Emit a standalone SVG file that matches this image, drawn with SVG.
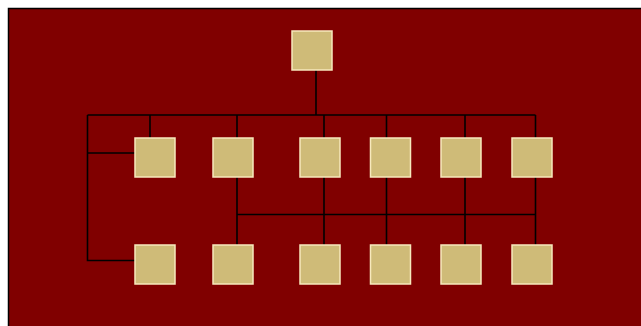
<svg xmlns="http://www.w3.org/2000/svg" width="641" height="326" viewBox="0 0 641 326">
<style>
.n{fill:#cfbb78;stroke:#f7e9bd;stroke-width:1.5}
.c{fill:none;stroke:#000;stroke-width:1.6}
</style>
<rect x="0" y="0" width="641" height="326" fill="#fff"/>
<rect x="8.5" y="8.5" width="640" height="325" fill="#800000" stroke="#000" stroke-width="1.5"/>
<g id="connectors">
<path class="c" d="M316 70V115M87.5 115H535.5M150 115V138M237 115V138M324 115V138M386.5 115V138M465 115V138M535.5 115V138M87.5 115V260.5H135M87.5 153H135M237 177V245M324 177V245M386.5 177V245M465 177V245M535.5 177V245M237 214.5H535.5"/>
</g>
<g id="top"><rect class="n" x="292" y="31" width="40" height="39"/></g>
<g id="a1"><rect class="n" x="135" y="138" width="40" height="39"/></g>
<g id="a2"><rect class="n" x="213" y="138" width="40" height="39"/></g>
<g id="a3"><rect class="n" x="300" y="138" width="40" height="39"/></g>
<g id="a4"><rect class="n" x="370.5" y="138" width="40" height="39"/></g>
<g id="a5"><rect class="n" x="441" y="138" width="40" height="39"/></g>
<g id="a6"><rect class="n" x="512" y="138" width="40" height="39"/></g>
<g id="b1"><rect class="n" x="135" y="245" width="40" height="39"/></g>
<g id="b2"><rect class="n" x="213" y="245" width="40" height="39"/></g>
<g id="b3"><rect class="n" x="300" y="245" width="40" height="39"/></g>
<g id="b4"><rect class="n" x="370.5" y="245" width="40" height="39"/></g>
<g id="b5"><rect class="n" x="441" y="245" width="40" height="39"/></g>
<g id="b6"><rect class="n" x="512" y="245" width="40" height="39"/></g>
</svg>
